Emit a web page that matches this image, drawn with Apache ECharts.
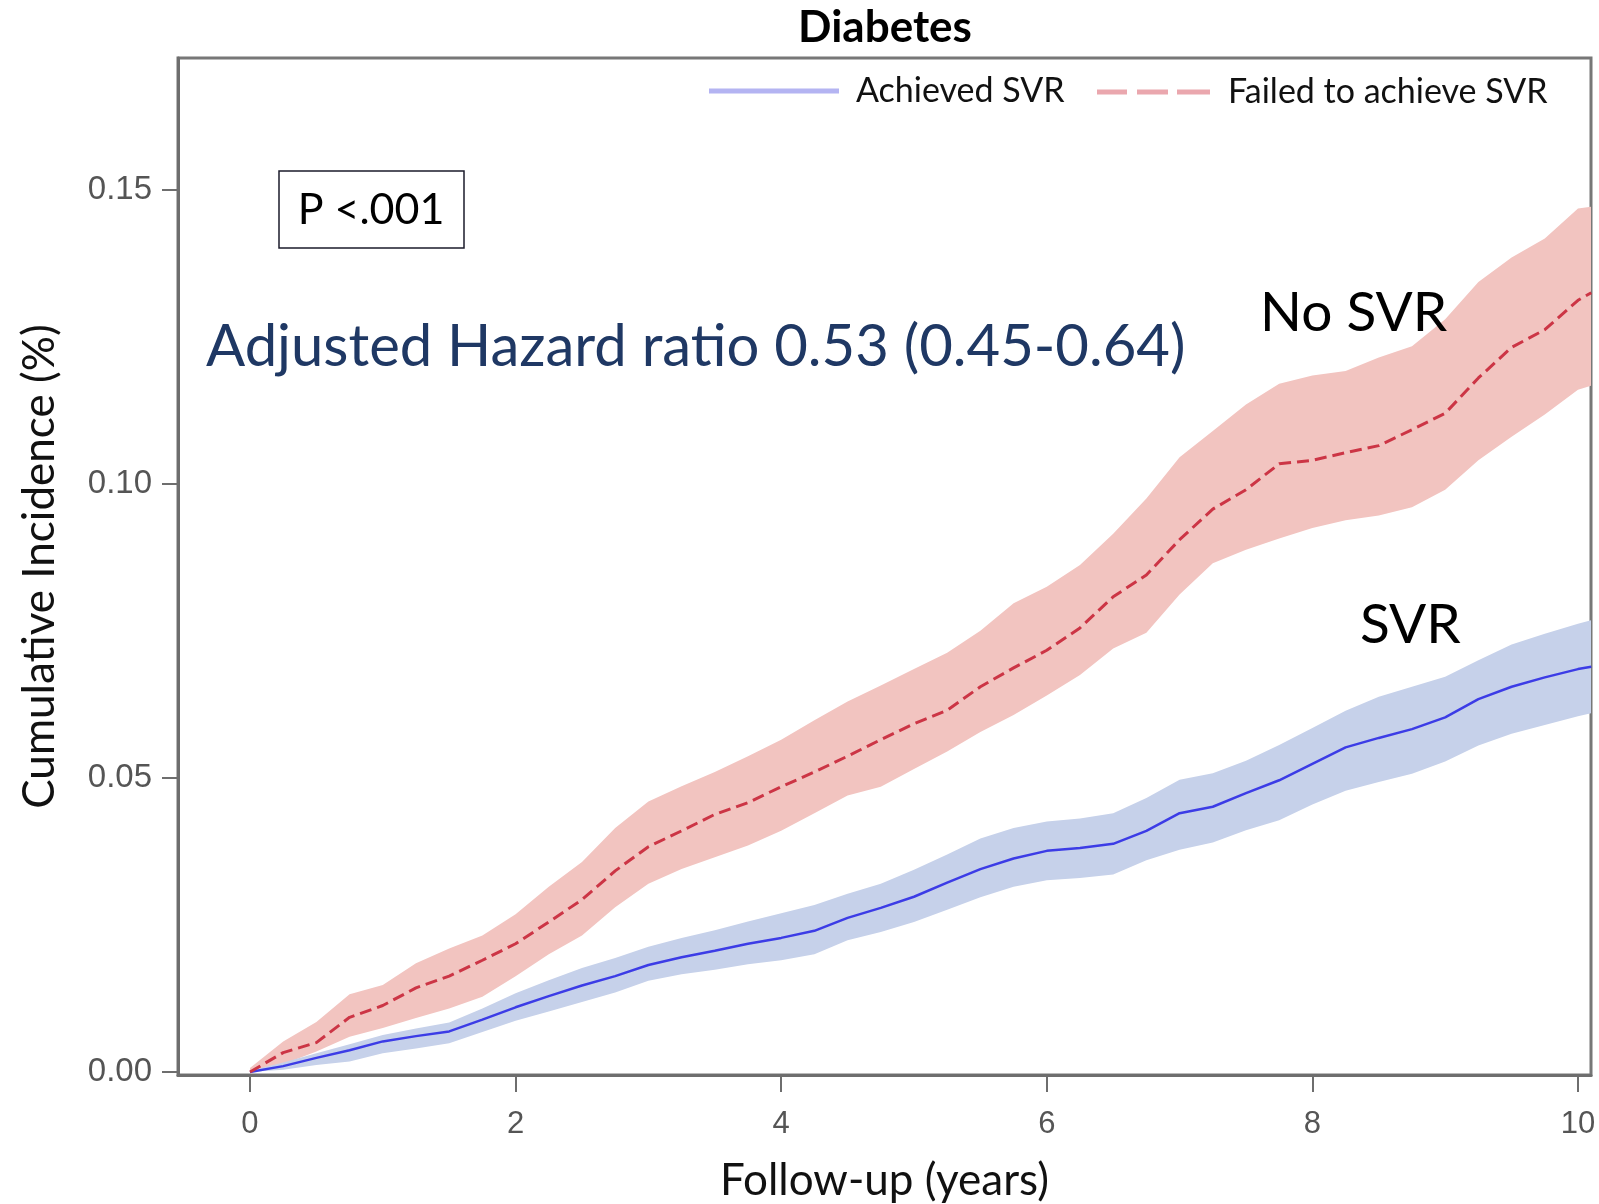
<!DOCTYPE html>
<html>
<head>
<meta charset="utf-8">
<script src="https://cdn.jsdelivr.net/npm/echarts@6/dist/echarts.min.js"></script>
<style>
  html, body { margin: 0; padding: 0; background: #fff; }
  #main { width: 1599px; height: 1204px; }
</style>
</head>
<body>
<div id="main"></div>
<script>
// follow-up time grid (years)
var years = [0, 0.25, 0.5, 0.75, 1, 1.25, 1.5, 1.75, 2, 2.25, 2.5, 2.75, 3, 3.25, 3.5, 3.75,
  4, 4.25, 4.5, 4.75, 5, 5.25, 5.5, 5.75, 6, 6.25, 6.5, 6.75, 7, 7.25, 7.5, 7.75,
  8, 8.25, 8.5, 8.75, 9, 9.25, 9.5, 9.75, 10, 10.1];

// failed to achieve SVR (red, dashed)
var noSvr = [0, 0.0033, 0.0050, 0.0093, 0.0113, 0.0143, 0.0163, 0.0190, 0.0218, 0.0255, 0.0293, 0.0342,
  0.0383, 0.0410, 0.0438, 0.0458, 0.0485, 0.0510, 0.0537, 0.0565, 0.0592, 0.0615, 0.0655, 0.0687,
  0.0717, 0.0755, 0.0808, 0.0845, 0.0905, 0.0957, 0.0990, 0.1034, 0.1040, 0.1053, 0.1065, 0.1092,
  0.1120, 0.1180, 0.1232, 0.1262, 0.1312, 0.1325];
var noSvrHi = [0.0007, 0.0052, 0.0085, 0.0132, 0.0148, 0.0185, 0.0210, 0.0232, 0.0268, 0.0315, 0.0357, 0.0415,
  0.0460, 0.0486, 0.0510, 0.0537, 0.0565, 0.0598, 0.0630, 0.0657, 0.0685, 0.0713, 0.0750, 0.0797,
  0.0825, 0.0862, 0.0915, 0.0975, 0.1045, 0.1090, 0.1135, 0.1170, 0.1184, 0.1192, 0.1215, 0.1234,
  0.1280, 0.1343, 0.1385, 0.1417, 0.1468, 0.1471];
var noSvrLo = [0, 0.0013, 0.0035, 0.0060, 0.0075, 0.0092, 0.0108, 0.0128, 0.0163, 0.0200, 0.0232, 0.0280,
  0.0320, 0.0345, 0.0365, 0.0385, 0.0410, 0.0440, 0.0470, 0.0485, 0.0515, 0.0545, 0.0578, 0.0607,
  0.0640, 0.0675, 0.0720, 0.0747, 0.0812, 0.0865, 0.0888, 0.0907, 0.0925, 0.0938, 0.0946, 0.0960,
  0.0990, 0.1040, 0.1080, 0.1118, 0.1160, 0.1167];

// achieved SVR (blue, solid)
var svr = [0, 0.0010, 0.0024, 0.0037, 0.0052, 0.0061, 0.0069, 0.0089, 0.0110, 0.0129, 0.0147, 0.0163,
  0.0182, 0.0195, 0.0206, 0.0218, 0.0228, 0.0240, 0.0262, 0.0279, 0.0298, 0.0322, 0.0345, 0.0363,
  0.0376, 0.0381, 0.0388, 0.0410, 0.0440, 0.0451, 0.0474, 0.0496, 0.0524, 0.0552, 0.0568, 0.0583,
  0.0603, 0.0634, 0.0655, 0.0671, 0.0685, 0.0689];
var svrHi = [0.0002, 0.0016, 0.0032, 0.0047, 0.0063, 0.0074, 0.0084, 0.0108, 0.0134, 0.0156, 0.0177, 0.0194,
  0.0213, 0.0228, 0.0241, 0.0256, 0.0270, 0.0284, 0.0303, 0.0320, 0.0344, 0.0370, 0.0397, 0.0415,
  0.0426, 0.0431, 0.0440, 0.0466, 0.0497, 0.0508, 0.0529, 0.0556, 0.0585, 0.0614, 0.0638, 0.0655,
  0.0672, 0.0700, 0.0727, 0.0745, 0.0762, 0.0768];
var svrLo = [0, 0.0004, 0.0012, 0.0018, 0.0032, 0.0040, 0.0049, 0.0068, 0.0087, 0.0103, 0.0119, 0.0135,
  0.0155, 0.0166, 0.0174, 0.0183, 0.0190, 0.0200, 0.0224, 0.0238, 0.0255, 0.0276, 0.0297, 0.0315,
  0.0326, 0.0330, 0.0336, 0.0360, 0.0378, 0.0390, 0.0411, 0.0428, 0.0455, 0.0478, 0.0493, 0.0507,
  0.0528, 0.0555, 0.0575, 0.0590, 0.0605, 0.0610];

var xTicks = [0, 2, 4, 6, 8, 10];
var yTicks = [0, 0.05, 0.10, 0.15];

var font = "Lato, 'Open Sans', sans-serif";

function pairs(vals) {
  return years.map(function (x, i) { return [x, vals[i]]; });
}

// confidence band drawn as one polygon through the axis scales
function bandSeries(lo, hi, color) {
  return {
    type: "custom", silent: true, clip: true, z: 1,
    data: years.map(function (x, i) { return [x, lo[i], hi[i]]; }),
    encode: { x: 0, y: [1, 2] },
    renderItem: function (params, api) {
      if (params.dataIndex !== 0) return null;
      var top = [], bot = [];
      for (var i = 0; i < years.length; i++) {
        top.push(api.coord([years[i], hi[i]]));
        bot.unshift(api.coord([years[i], lo[i]]));
      }
      return { type: "polygon", shape: { points: top.concat(bot) }, style: { fill: color } };
    }
  };
}

var chart = echarts.init(document.getElementById("main"));

var option = {
  animation: false,
  backgroundColor: "#fff",
  grid: {
    left: 178, right: 8, top: 58, bottom: 129, outerBoundsMode: "none",
    show: true, borderColor: "#777", borderWidth: 3
  },
  legend: [
    {
      data: [{ name: "Achieved SVR", icon: "rect", itemStyle: { color: "#b4b4f2", borderWidth: 0 } }],
      left: 704, top: 69, itemWidth: 130, itemHeight: 5, selectedMode: false,
      textStyle: { fontFamily: font, fontSize: 34, color: "#111", padding: [0, 0, 0, 12] }
    },
    {
      data: [{
        name: "Failed to achieve SVR",
        icon: "path://M0,0h30v5h-30z M40,0h31v5h-31z M80,0h33v5h-33z",
        itemStyle: { color: "#eaa7ae", borderWidth: 0 }
      }],
      left: 1092, top: 70, itemWidth: 113, itemHeight: 5, selectedMode: false,
      textStyle: { fontFamily: font, fontSize: 34, color: "#111", padding: [0, 0, 0, 13] }
    }
  ],
  xAxis: {
    type: "value", min: -0.542, max: 10.098,
    name: "Follow-up (years)", nameLocation: "middle", nameGap: 84,
    nameTextStyle: { fontFamily: font, fontSize: 44, color: "#111" },
    splitLine: { show: false },
    axisLine: { onZero: false, lineStyle: { color: "#6e6e6e", width: 3 } },
    axisTick: { customValues: xTicks, length: 17, lineStyle: { color: "#6e6e6e", width: 2 } },
    axisLabel: {
      customValues: xTicks, margin: 34, color: "#555",
      fontFamily: "'Liberation Sans', Arial, sans-serif", fontSize: 31
    }
  },
  yAxis: {
    type: "value", min: -0.00051, max: 0.1724,
    name: "Cumulative Incidence (%)", nameLocation: "middle", nameGap: 116, nameRotate: 90,
    nameTextStyle: { fontFamily: font, fontSize: 44, color: "#111" },
    splitLine: { show: false },
    axisLine: { onZero: false, lineStyle: { color: "#6e6e6e", width: 3 } },
    axisTick: { customValues: yTicks, length: 16, lineStyle: { color: "#6e6e6e", width: 2 } },
    axisLabel: {
      customValues: yTicks, margin: 26, color: "#555",
      fontFamily: "'Liberation Sans', Arial, sans-serif", fontSize: 33,
      formatter: function (v) { return v.toFixed(2); }
    }
  },
  series: [
    bandSeries(noSvrLo, noSvrHi, "#f2c4c0"),
    bandSeries(svrLo, svrHi, "#c6d1ea"),
    {
      name: "Achieved SVR", type: "line", data: pairs(svr), symbol: "none", z: 3,
      lineStyle: { color: "#3c3ce6", width: 2.5 }
    },
    {
      name: "Failed to achieve SVR", type: "line", data: pairs(noSvr), symbol: "none", z: 3,
      lineStyle: { color: "#cc3545", width: 3, type: [12, 6] }
    }
  ],
  graphic: [
    {
      type: "text", x: 885, y: 28,
      style: { text: "Diabetes", font: "bold 44px " + font, fill: "#000", align: "center", verticalAlign: "middle" }
    },
    {
      type: "rect", shape: { x: 279, y: 171, width: 185, height: 77 },
      style: { fill: "#fff", stroke: "#1b1b2b", lineWidth: 1.5 }, z: 10
    },
    {
      type: "text", x: 371, y: 210, z: 11,
      style: { text: "P <.001", font: "43px " + font, fill: "#000", align: "center", verticalAlign: "middle" }
    },
    {
      type: "text", x: 206, y: 347, z: 11,
      style: { text: "Adjusted Hazard ratio 0.53 (0.45-0.64)", font: "58px " + font, fill: "#1f3864", align: "left", verticalAlign: "middle" }
    },
    {
      type: "text", x: 1260, y: 313, z: 11,
      style: { text: "No SVR", font: "55px " + font, fill: "#000", align: "left", verticalAlign: "middle" }
    },
    {
      type: "text", x: 1360, y: 625, z: 11,
      style: { text: "SVR", font: "55px " + font, fill: "#000", align: "left", verticalAlign: "middle" }
    }
  ]
};

chart.setOption(option);
</script>
</body>
</html>
